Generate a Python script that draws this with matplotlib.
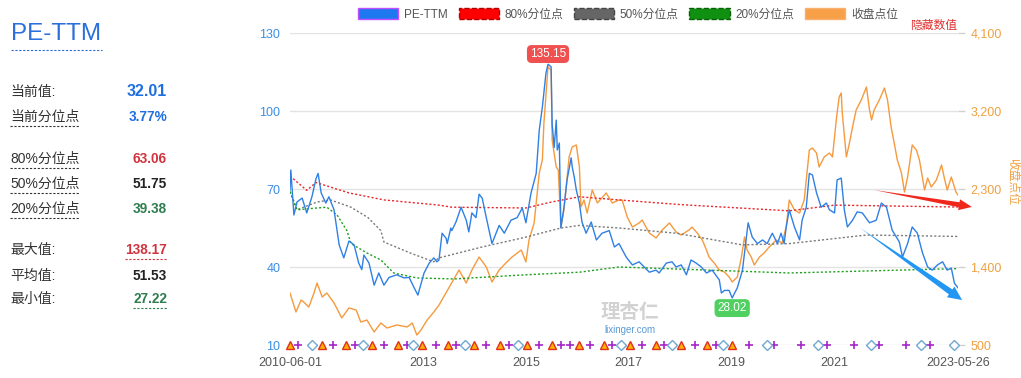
import numpy as np
import matplotlib
matplotlib.use("Agg")
import matplotlib.pyplot as plt
from matplotlib.patches import Patch, Polygon
from matplotlib.lines import Line2D
from matplotlib.transforms import IdentityTransform
from matplotlib.ticker import FuncFormatter

plt.rcParams['font.family'] = ['Liberation Sans', 'Noto Sans CJK SC', 'DejaVu Sans']

# --- data (x = decimal year) ---
pe_x = [2010.414, 2010.43, 2010.49, 2010.55, 2010.65, 2010.74, 2010.84, 2010.92, 2010.96, 2011.02,
        2011.11, 2011.17, 2011.27, 2011.33, 2011.37, 2011.46, 2011.56, 2011.66, 2011.75, 2011.81,
        2011.85, 2011.95, 2012.05, 2012.14, 2012.24, 2012.34, 2012.49, 2012.63, 2012.73, 2012.82,
        2012.90, 2013.02, 2013.12, 2013.21, 2013.27, 2013.31, 2013.37, 2013.45, 2013.47, 2013.54,
        2013.56, 2013.64, 2013.74, 2013.84, 2013.89, 2013.95, 2014.03, 2014.09, 2014.15, 2014.23,
        2014.34, 2014.48, 2014.58, 2014.71, 2014.83, 2014.93, 2015.00, 2015.10, 2015.20, 2015.26,
        2015.32, 2015.39, 2015.43, 2015.49, 2015.51, 2015.55, 2015.59, 2015.61, 2015.65, 2015.68,
        2015.74, 2015.80, 2015.88, 2015.90, 2015.94, 2015.98, 2016.04, 2016.09, 2016.17, 2016.27,
        2016.37, 2016.48, 2016.62, 2016.72, 2016.81, 2016.95, 2017.07, 2017.20, 2017.26, 2017.40,
        2017.53, 2017.59, 2017.73, 2017.84, 2017.92, 2018.02, 2018.12, 2018.21, 2018.31, 2018.41,
        2018.51, 2018.62, 2018.76, 2018.80, 2018.86, 2018.95, 2019.01, 2019.11, 2019.21, 2019.28,
        2019.32, 2019.40, 2019.50, 2019.60, 2019.69, 2019.79, 2019.89, 2019.96, 2020.02, 2020.06,
        2020.12, 2020.22, 2020.32, 2020.37, 2020.45, 2020.51, 2020.57, 2020.65, 2020.74, 2020.84,
        2020.90, 2021.00, 2021.05, 2021.13, 2021.19, 2021.25, 2021.35, 2021.44, 2021.54, 2021.68,
        2021.81, 2021.91, 2022.01, 2022.12, 2022.26, 2022.32, 2022.42, 2022.51, 2022.61, 2022.71,
        2022.81, 2022.90, 2023.00, 2023.10, 2023.19, 2023.27, 2023.33, 2023.40]
pe_y = [69.6, 77.3, 60.0, 65.0, 66.5, 60.8, 67.0, 74.0, 76.0, 68.5,
        64.6, 67.0, 62.0, 54.0, 48.5, 43.5, 50.0, 48.5, 41.5, 39.0,
        44.6, 41.5, 33.0, 37.7, 33.0, 36.0, 37.0, 35.8, 36.0, 32.3,
        29.2, 37.7, 41.5, 43.5, 42.0, 42.7, 53.0, 51.0, 49.0, 55.0,
        54.0, 57.3, 63.0, 58.0, 53.5, 60.8, 59.0, 68.0, 66.5, 59.0,
        49.0, 56.0, 53.0, 58.0, 59.0, 62.7, 57.0, 68.5, 76.0, 92.7,
        101.5, 114.6, 118.0, 117.0, 95.0, 86.0, 96.5, 85.0, 87.7, 55.0,
        63.0, 73.5, 82.0, 78.5, 74.6, 69.6, 64.6, 57.3, 53.0, 57.3,
        50.4, 53.0, 54.0, 47.7, 49.0, 43.8, 40.8, 42.0, 40.8, 38.0,
        38.8, 37.7, 41.5, 42.0, 40.0, 40.8, 37.0, 42.7, 41.5, 40.0,
        37.7, 38.8, 35.0, 30.0, 31.0, 31.0, 28.1, 32.0, 38.8, 50.4,
        57.0, 51.5, 49.0, 50.4, 49.0, 53.0, 49.0, 53.0, 49.0, 55.4,
        62.0, 55.4, 50.4, 58.0, 63.0, 76.0, 75.4, 68.5, 63.0, 64.6,
        62.0, 60.8, 73.5, 74.2, 62.0, 55.4, 58.0, 61.2, 60.8, 57.0,
        58.0, 64.6, 63.0, 54.2, 49.6, 43.8, 49.0, 55.4, 53.0, 45.4,
        40.0, 38.8, 40.8, 42.0, 38.8, 39.6, 33.8, 32.0]

close_x = [2010.414, 2010.53, 2010.63, 2010.68, 2010.78, 2010.88, 2010.94, 2011.04, 2011.13, 2011.27,
           2011.42, 2011.56, 2011.70, 2011.79, 2011.91, 2012.05, 2012.18, 2012.30, 2012.49, 2012.69,
           2012.79, 2012.88, 2012.96, 2013.08, 2013.21, 2013.31, 2013.51, 2013.70, 2013.84, 2013.95,
           2014.09, 2014.23, 2014.34, 2014.48, 2014.61, 2014.73, 2014.91, 2015.00, 2015.06, 2015.16,
           2015.26, 2015.32, 2015.35, 2015.43, 2015.49, 2015.51, 2015.59, 2015.63, 2015.68, 2015.74,
           2015.84, 2015.90, 2015.98, 2016.04, 2016.07, 2016.13, 2016.19, 2016.29, 2016.39, 2016.56,
           2016.68, 2016.81, 2016.87, 2016.97, 2017.07, 2017.20, 2017.26, 2017.40, 2017.53, 2017.65,
           2017.79, 2017.92, 2018.02, 2018.17, 2018.23, 2018.33, 2018.43, 2018.51, 2018.56, 2018.66,
           2018.76, 2018.86, 2018.95, 2019.01, 2019.11, 2019.19, 2019.25, 2019.30, 2019.38, 2019.44,
           2019.54, 2019.63, 2019.73, 2019.87, 2019.98, 2020.06, 2020.12, 2020.22, 2020.32, 2020.41,
           2020.51, 2020.57, 2020.65, 2020.70, 2020.80, 2020.90, 2020.96, 2021.04, 2021.09, 2021.13,
           2021.15, 2021.23, 2021.29, 2021.35, 2021.42, 2021.52, 2021.62, 2021.68, 2021.72, 2021.77,
           2021.87, 2021.97, 2022.03, 2022.10, 2022.16, 2022.22, 2022.30, 2022.36, 2022.42, 2022.51,
           2022.59, 2022.65, 2022.75, 2022.81, 2022.88, 2022.98, 2023.08, 2023.13, 2023.19, 2023.27,
           2023.36, 2023.40]
close_y = [1100, 881, 1019, 996, 938, 1100, 1215, 1054, 1100, 985,
           812, 927, 904, 765, 788, 650, 754, 696, 731, 708,
           754, 615, 673, 788, 881, 960, 1169, 1365, 1215, 1365,
           1515, 1400, 1227, 1365, 1446, 1515, 1596, 1458, 1711, 1908,
           2485, 2635, 3062, 3708, 3673, 2865, 2554, 2519, 1861, 2058,
           2670, 2785, 2808, 2554, 2092, 2173, 2023, 2288, 2139, 2254,
           2139, 2173, 2173, 1977, 1861, 1908, 1942, 1792, 1735, 1827,
           1908, 1804, 1769, 1827, 1861, 1792, 1711, 1596, 1515, 1446,
           1365, 1342, 1285, 1227, 1285, 1515, 1746, 1596, 1515, 1423,
           1515, 1561, 1631, 1711, 1677, 1861, 2173, 2058, 2023, 2173,
           2750, 2773, 2715, 2554, 2670, 2715, 2670, 3131, 3362, 3408,
           3177, 2670, 2831, 3015, 3212, 3327, 3477, 3212, 3096, 3212,
           3327, 3465, 3327, 3015, 2831, 2635, 2485, 2265, 2438, 2808,
           2750, 2635, 2288, 2427, 2323, 2404, 2577, 2438, 2288, 2438,
           2265, 2231]

p80_x = [2010.414, 2010.74, 2010.92, 2011.56, 2012.24, 2013.31, 2013.56, 2015.00, 2015.50, 2016.04, 2016.81, 2018.00, 2020.12, 2021.00, 2023.40]
p80_y = [75.0, 69.5, 72.5, 68.5, 65.8, 63.8, 63.0, 62.7, 65.0, 67.0, 65.8, 64.0, 61.6, 63.8, 63.06]
p50_x = [2010.414, 2010.55, 2010.94, 2011.20, 2011.60, 2011.93, 2012.18, 2012.24, 2012.75, 2013.21, 2013.31, 2014.15, 2015.00, 2015.68, 2016.04, 2016.81, 2017.92, 2019.21, 2020.12, 2021.62, 2023.40]
p50_y = [69.0, 62.0, 65.0, 65.8, 63.0, 59.0, 54.0, 49.6, 45.4, 42.0, 43.5, 47.7, 51.5, 55.0, 56.0, 55.0, 53.0, 48.5, 49.0, 52.3, 51.75]
p20_x = [2010.414, 2010.55, 2010.94, 2011.13, 2011.33, 2011.52, 2011.60, 2011.91, 2012.18, 2012.43, 2012.88, 2013.60, 2015.00, 2016.04, 2016.81, 2018.56, 2020.12, 2023.40]
p20_y = [69.0, 62.0, 62.7, 63.0, 60.0, 54.0, 49.0, 45.4, 42.7, 37.7, 35.8, 35.4, 37.0, 38.0, 40.0, 38.8, 37.7, 39.38]

# event markers on the baseline
tri_x = [2010.414, 2011.04, 2011.50, 2012.01, 2012.51, 2012.98, 2013.49, 2013.99, 2014.50, 2015.02,
         2015.51, 2016.04, 2016.52, 2017.03, 2017.53, 2018.02, 2018.53, 2019.01]
plus_x = [2010.57, 2011.25, 2011.68, 2012.24, 2012.69, 2013.25, 2013.64, 2014.23, 2014.67, 2015.26,
          2015.68, 2015.86, 2016.25, 2016.68, 2017.26, 2017.69, 2018.29, 2018.70, 2019.34, 2019.83,
          2020.35, 2020.86, 2021.37, 2021.87, 2022.38, 2022.86]
dia_x = [2010.84, 2011.83, 2012.81, 2013.82, 2014.85, 2016.85, 2017.84, 2018.84, 2019.69, 2020.68,
         2021.70, 2022.69, 2023.33]

xtick_pos = [2010.414, 2013, 2015, 2017, 2019, 2021, 2023.40]
xtick_labels = ['2010-06-01', '2013', '2015', '2017', '2019', '2021', '2023-05-26']
pe_ticks = [10, 40, 70, 100, 130]
close_ticks = [500, 1400, 2300, 3200, 4100]

stat_labels = ['当前值:', '当前分位点', '80%分位点', '50%分位点', '20%分位点', '最大值:', '平均值:', '最小值:']
stat_values = ['32.01', '3.77%', '63.06', '51.75', '39.38', '138.17', '51.53', '27.22']
stat_colors = ['#1f6fe0', '#1f6fe0', '#d0353f', '#222222', '#2e7d4f', '#d0353f', '#222222', '#2e7d4f']

BLUE = '#2f80e4'
ORANGE = '#f59a3e'
W, H = 1021, 378

fig = plt.figure(figsize=(W / 100, H / 100), dpi=100)
ax = fig.add_axes([290 / W, 1 - 345 / H, 668 / W, 312 / H])
ax2 = ax.twinx()
ax.set_zorder(ax2.get_zorder() + 1)
ax.patch.set_visible(False)

ax2.plot(close_x, close_y, color=ORANGE, lw=1.0)
ax.plot(p80_x, p80_y, color='#e8262a', lw=1.0, ls=(0, (1.5, 1.5)))
ax.plot(p50_x, p50_y, color='#7a7a7a', lw=1.0, ls=(0, (1.5, 1.5)))
ax.plot(p20_x, p20_y, color='#1fa01f', lw=1.0, ls=(0, (1.5, 1.5)))
ax.plot(pe_x, pe_y, color=BLUE, lw=1.0)

ax.plot(plus_x, [10] * len(plus_x), ls='none', marker='+', ms=6, mew=1.2, color='#a426c8', clip_on=False)
ax.plot(dia_x, [10] * len(dia_x), ls='none', marker='D', ms=5, mfc='white', mec='#6fa8d0', mew=1.0, clip_on=False)
ax.plot(tri_x, [10] * len(tri_x), ls='none', marker='^', ms=6, mfc='#ffb000', mec='#e0301e', mew=1.0, clip_on=False)

ax.set_xlim(2010.414, 2023.40)
ax.set_ylim(10, 130)
ax2.set_ylim(500, 4100)
ax.set_xticks(xtick_pos)
ax.set_xticklabels(xtick_labels)
ax.set_yticks(pe_ticks)
ax2.set_yticks(close_ticks)
ax2.yaxis.set_major_formatter(FuncFormatter(lambda v, p: f'{int(v):,}'))

ax2.grid(True, color='#e3e3e3', lw=1.0)
ax2.set_axisbelow(True)
for a in (ax, ax2):
    for s in a.spines.values():
        s.set_visible(False)
ax.tick_params(axis='y', length=0, pad=7, labelsize=9, labelcolor='#3a8ee6')
ax.tick_params(axis='x', length=0, pad=9, labelsize=9, labelcolor='#555555')
ax2.tick_params(axis='y', length=5, width=1, color='#d0d0d0', pad=4, labelsize=9, labelcolor='#f0a040')
ax2.tick_params(axis='x', length=0)

# labels on peak / trough
imax = int(np.argmax(pe_y))
imin = int(np.argmin(pe_y))
ax.annotate('135.15', xy=(pe_x[imax], pe_y[imax]), xytext=(0, 3), textcoords='offset points',
            ha='center', va='bottom', color='white', fontsize=8.5,
            bbox=dict(boxstyle='round,pad=0.25,rounding_size=0.4', fc='#f0504f', ec='none'))
ax.annotate('28.02', xy=(pe_x[imin], pe_y[imin]), xytext=(0, -3), textcoords='offset points',
            ha='center', va='top', color='white', fontsize=8.5,
            bbox=dict(boxstyle='round,pad=0.25,rounding_size=0.4', fc='#4fd060', ec='none'))


def tapered_arrow(x0, y0, x1, y1, color, neck, head_w, head_len):
    (px0, py0), (px1, py1) = ax.transData.transform([(x0, y0), (x1, y1)])
    dx, dy = px1 - px0, py1 - py0
    L = np.hypot(dx, dy)
    ux, uy = dx / L, dy / L
    nx, ny = -uy, ux
    bx, by = px1 - ux * head_len, py1 - uy * head_len
    pts = [(px0, py0), (bx + nx * neck, by + ny * neck), (bx + nx * head_w, by + ny * head_w),
           (px1, py1), (bx - nx * head_w, by - ny * head_w), (bx - nx * neck, by - ny * neck)]
    fig.add_artist(Polygon(pts, closed=True, transform=IdentityTransform(), fc=color, ec='none', zorder=10))


tapered_arrow(2021.77, 69.6, 2023.67, 63.1, '#f0281c', 2.5, 5.5, 13)
tapered_arrow(2021.50, 55.0, 2023.48, 27.3, '#2196f3', 3.0, 6.5, 14)

# watermark
fig.text(630 / W, 1 - 312 / H, '理杏仁', ha='center', va='center', fontsize=14, color='#d2d2d2', fontweight='bold')
fig.text(630 / W, 1 - 330 / H, 'lixinger.com', ha='center', va='center', fontsize=7, color='#5b9bd5')

# legend
handles = [Patch(fc='#1e78f0', ec='#c050ff'),
           Patch(fc='#ff0000', ec='#b00000', ls='--'),
           Patch(fc='#666666', ec='#444444', ls='--'),
           Patch(fc='#109010', ec='#0a600a', ls='--'),
           Patch(fc='#f8a048', ec='#f8b070')]
leg = fig.legend(handles, ['PE-TTM', '80%分位点', '50%分位点', '20%分位点', '收盘点位'],
                 loc='upper center', bbox_to_anchor=(628 / W, 1.0), ncol=5, frameon=False,
                 fontsize=8.5, handlelength=3.4, handleheight=1.0, columnspacing=0.9,
                 handletextpad=0.5, borderaxespad=0.3)
for t in leg.get_texts():
    t.set_color('#555555')

fig.text(957 / W, 1 - 26 / H, '隐藏数值', ha='right', va='center', fontsize=8.5, color='#e03030')
fig.text(1013 / W, 1 - 182 / H, '收盘点位', ha='center', va='center', rotation=270, fontsize=8.5, color='#f0a040')

# left panel
fig.text(11 / W, 1 - 34 / H, 'PE-TTM', ha='left', va='center', fontsize=17.5, color='#2a6fdb')
fig.add_artist(Line2D([11 / W, 102 / W], [1 - 50 / H] * 2, color='#2a6fdb', lw=0.8, ls=(0, (2, 1.5))))
row_y = [92, 117, 159, 184, 209, 250, 276, 299]
for i, (lab, val, col, yy) in enumerate(zip(stat_labels, stat_values, stat_colors, row_y)):
    fig.text(10 / W, 1 - yy / H, lab, ha='left', va='center', fontsize=10, color='#333333')
    fs = 11.5 if i == 0 else 9.8
    fig.text(167 / W, 1 - yy / H, val, ha='right', va='center', fontsize=fs, color=col, fontweight='bold')
    if lab.endswith('分位点'):
        fig.add_artist(Line2D([10 / W, 80 / W], [1 - (yy + 9) / H] * 2, color='#333333', lw=0.8, ls=(0, (2, 1.5))))
fig.add_artist(Line2D([125 / W, 167 / W], [1 - 259 / H] * 2, color='#d0353f', lw=0.8, ls=(0, (2, 1.5))))
fig.add_artist(Line2D([133 / W, 167 / W], [1 - 308 / H] * 2, color='#2e7d4f', lw=0.8, ls=(0, (2, 1.5))))

fig.savefig('out.png', dpi=100)
